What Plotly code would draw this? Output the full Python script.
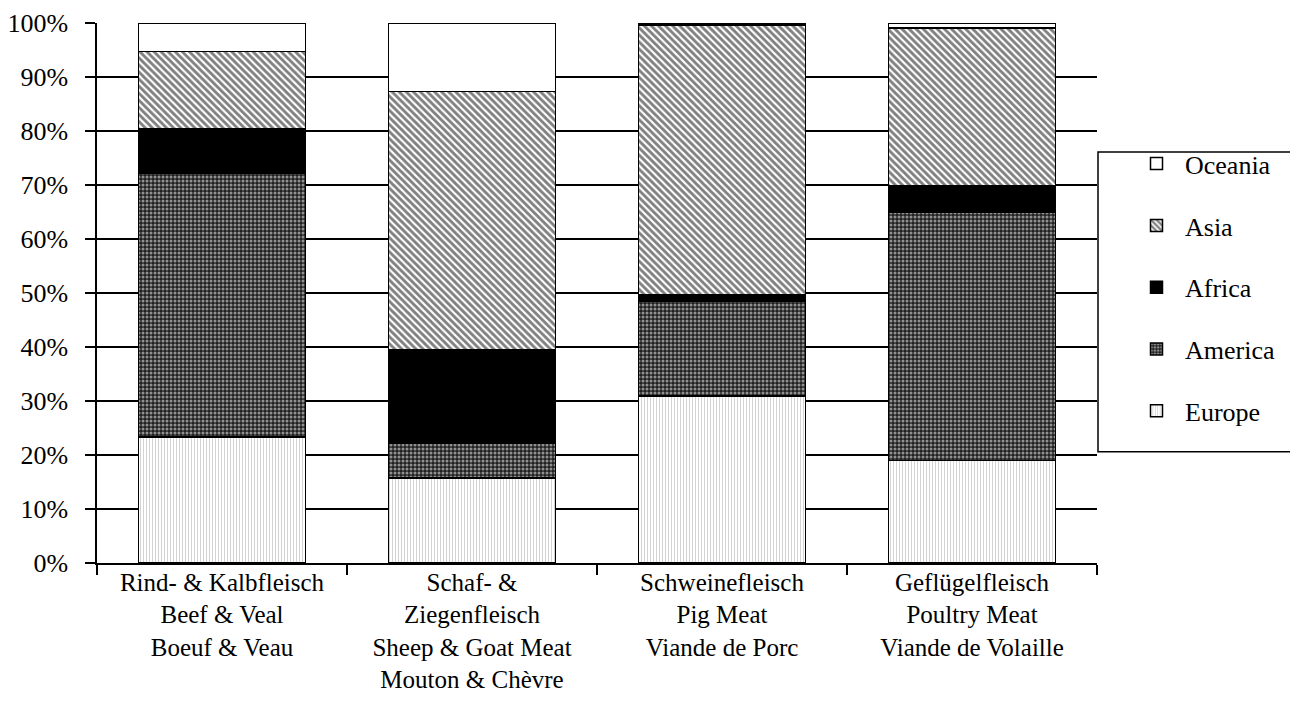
"""Share of world meat production by continent, stacked to 100%"""

import plotly.graph_objects as go

categories = [
    "Rind- & Kalbfleisch<br>Beef & Veal<br>Boeuf & Veau",
    "Schaf- &<br>Ziegenfleisch<br>Sheep & Goat Meat<br>Mouton & Chèvre",
    "Schweinefleisch<br>Pig Meat<br>Viande de Porc",
    "Geflügelfleisch<br>Poultry Meat<br>Viande de Volaille",
]

# percent shares per region, one value per category
europe = [23.3, 15.7, 30.9, 19.0]
america = [48.9, 6.4, 17.5, 46.0]
africa = [8.3, 17.3, 1.3, 4.8]
asia = [14.2, 47.9, 49.9, 29.3]
oceania = [5.3, 12.7, 0.4, 0.9]

font_family = "Liberation Serif, Times New Roman, serif"

# region name -> (values, pattern style), bottom of the stack first
series = [
    ("Europe", europe, {"shape": "|", "fgcolor": "#8a8a8a", "bgcolor": "white", "size": 3, "solidity": 0.25}),
    ("America", america, {"shape": ".", "fgcolor": "white", "bgcolor": "#222222", "size": 4, "solidity": 0.45}),
    ("Africa", africa, {"shape": "", "fgcolor": "black", "bgcolor": "black"}),
    ("Asia", asia, {"shape": "\\", "fgcolor": "black", "bgcolor": "white", "size": 5, "solidity": 0.58}),
    ("Oceania", oceania, {"shape": "", "fgcolor": "white", "bgcolor": "white"}),
]

figure = go.Figure()

for rank, (name, values, pattern) in enumerate(series):
    fill = "black" if name == "Africa" else "white"
    figure.add_trace(go.Bar(
        x=categories,
        y=values,
        name=name,
        legendgroup=name,
        legendrank=len(series) - rank,
        marker={
            "color": fill,
            "line": {"color": "black", "width": 1.5},
            "pattern": pattern,
        },
    ))

# legend frame drawn as a shape so it can be as wide as in the original
legend_frame = {
    "type": "rect",
    "xref": "paper",
    "yref": "paper",
    "x0": 1.001,
    "x1": 1.199,
    "y0": 0.206,
    "y1": 0.761,
    "line": {"color": "black", "width": 1.5},
    "fillcolor": "rgba(0,0,0,0)",
}

# the page body adds an 8px margin, so the figure is 8px smaller on each side
plot_layout = {
    "barmode": "stack",
    "bargap": 0.332,
    "width": 1290,
    "height": 710,
    "margin": {"l": 89, "r": 201, "t": 15, "b": 155, "autoexpand": False},
    "paper_bgcolor": "white",
    "plot_bgcolor": "white",
    "font": {"family": font_family, "size": 26, "color": "black"},
    "shapes": [legend_frame],
    "xaxis": {
        "type": "category",
        "showline": True,
        "linecolor": "black",
        "linewidth": 1.5,
        "ticks": "outside",
        "tickson": "boundaries",
        "ticklen": 10,
        "tickcolor": "black",
        "tickwidth": 1.5,
        "ticklabelstandoff": -4,
        "showgrid": False,
        "automargin": False,
        "tickfont": {"size": 25},
    },
    "yaxis": {
        "range": [0, 100],
        "tick0": 0,
        "dtick": 10,
        "ticksuffix": "%",
        "showline": True,
        "linecolor": "black",
        "linewidth": 1.5,
        "ticks": "outside",
        "ticklen": 10,
        "tickcolor": "black",
        "tickwidth": 1.5,
        "ticklabelstandoff": 12,
        "ticklabeloverflow": "allow",
        "showgrid": True,
        "gridcolor": "black",
        "gridwidth": 1.5,
        "zeroline": False,
        "automargin": False,
        "tickfont": {"size": 26},
    },
    "legend": {
        "x": 1.031,
        "xanchor": "left",
        "y": 0.783,
        "yanchor": "top",
        "traceorder": "grouped",
        "tracegroupgap": 25,
        "borderwidth": 0,
        "bgcolor": "rgba(0,0,0,0)",
        "font": {"size": 26},
        "itemwidth": 47,
    },
}

figure.update_layout(plot_layout)
figure.write_html("out.html")
